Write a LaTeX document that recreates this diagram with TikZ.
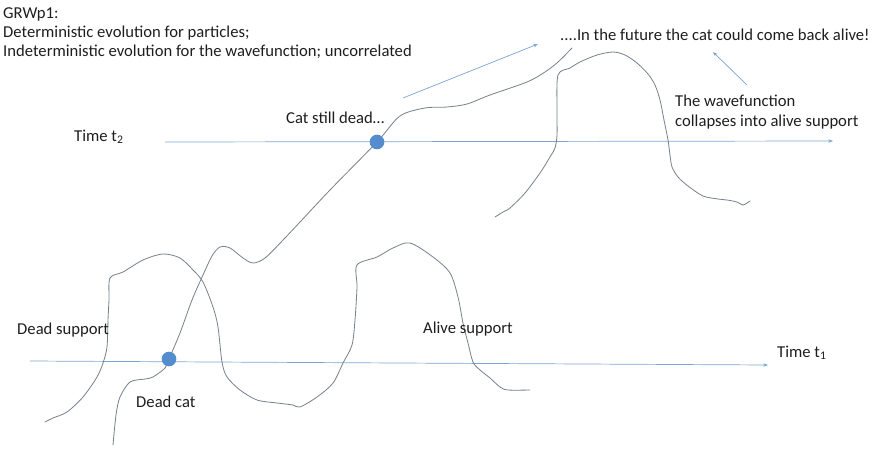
\documentclass[tikz,border=0pt]{standalone}
\usepackage{fontspec}
\setmainfont{Carlito}
\usetikzlibrary{arrows.meta,positioning}
\definecolor{axisblue}{RGB}{125,165,210}
\definecolor{dotblue}{RGB}{85,140,205}
\definecolor{wavegray}{RGB}{120,130,142}
\definecolor{textgray}{RGB}{30,30,30}

\begin{document}
\begin{tikzpicture}[x=0.03cm,y=-0.03cm,>={Stealth[length=4pt,width=3pt]},
  every node/.style={font=\fontsize{14.2}{16.4}\selectfont,text=textgray},
  lbl/.style={anchor=west,inner sep=0pt},
  timeaxis/.style={draw=axisblue,line width=0.6pt,->},
  note/.style={draw=axisblue,line width=0.6pt,->},
  wave/.style={draw=wavegray,line width=0.7pt,line join=round,line cap=round},
  catdot/.style={circle,fill=dotblue,inner sep=0pt,minimum size=12.5pt}]
\useasboundingbox (0,0) rectangle (878,450);
% time axes
\coordinate (t2start) at (165,142); \coordinate (t2end) at (833,141);
\coordinate (t1start) at (30,361); \coordinate (t1end) at (768,365);
\draw[timeaxis] (t2start) -- (t2end);
\draw[timeaxis] (t1start) -- (t1end);
% wavefunction at t1: dead and alive support
\draw[wave] plot[smooth,tension=0.5] coordinates {(45,422) (53,418) (67,412) (83,397) (97,377) (103,363) (107,347) (108,320) (109,300) (110,278)
  (123,272) (143,260) (163,254) (180,258) (193,270) (203,282) (213,307) (218,327) (222,362) (227,377) (240,390) (257,400) (277,403) (293,405)
  (300,407) (317,397) (333,383) (343,363) (352,345) (355,320) (357,287) (357,265) (377,257) (393,248) (410,243)
  (433,257) (450,273) (458,297) (463,323) (468,343) (473,362) (480,370) (490,378) (500,387) (508,390) (530,390)};
% wavefunction at t2: alive support
\draw[wave] plot[smooth,tension=0.5] coordinates {(495,217) (503,212) (510,208) (525,193) (540,173) (550,157) (555,148) (557,135) (557,110) (558,75)
  (570,68) (580,62) (597,55) (613,52) (625,55) (637,63) (648,74) (655,85) (660,100) (664,120) (668,140) (670,155) (672,167)
  (678,177) (688,186) (703,196) (718,199) (727,200) (737,202) (743,205) (750,201)};
% path of the cat
\draw[wave] plot[smooth,tension=0.5] coordinates {(113,445) (116,415) (120,397) (130,382) (145,379) (153,377) (165,368) (169,359) (180,333)
  (192,300) (203,275) (212,256) (220,247) (230,248) (243,258) (253,263) (265,258) (285,238) (330,190) (377,142) (400,116)
  (425,108) (447,107) (467,104) (490,95) (527,82) (545,72) (558,62) (572,48)};
\node[catdot] (deadcat) at (169,359) {};
\node[catdot] (stilldead) at (377,142) {};
% labels
\node[lbl,anchor=north west,align=left] (title) at (3,7) {GRWp1:\\Deterministic evolution for particles;\\Indeterministic evolution for the wavefunction; uncorrelated};
\node[lbl] (future) at (560,35) {....In the future the cat could come back alive!};
\node[lbl,align=left] (collapse) at (675,112) {The wavefunction\\collapses into alive support};
\node[lbl] (timetwo) at (74,137) {Time t\textsubscript{2}};
\node[lbl] (timeone) at (777,353) {Time t\textsubscript{1}};
\node[lbl] (stilllbl) at (286,118) {Cat still dead…};
\node[lbl] (deadsupp) at (17,330) {Dead support};
\node[lbl] (alivesupp) at (423,329) {Alive support};
\node[lbl] (deadlbl) at (136,402) {Dead cat};
% arrows to the future
\coordinate (futuretail) at (403,98); \coordinate (futuretip) at (538,44);
\coordinate (collapsetail) at (747,85); \coordinate (collapsetip) at (713,52);
\draw[note] (futuretail) -- (futuretip);
\draw[note] (collapsetail) -- (collapsetip);
\end{tikzpicture}
\end{document}
